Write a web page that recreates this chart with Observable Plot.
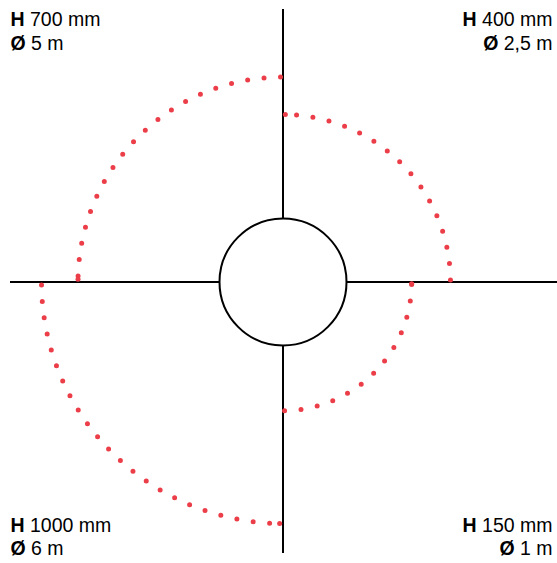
<!DOCTYPE html>
<html>
<head>
<meta charset="utf-8">
<script src="https://cdn.jsdelivr.net/npm/d3@7"></script>
<script src="https://cdn.jsdelivr.net/npm/@observablehq/plot@0.6"></script>
<style>
  html, body { margin: 0; padding: 0; background: white; }
</style>
</head>
<body>
<div id="chart"></div>
<script>
// ---- Data ----
const quadrants   = ["top-left", "top-right", "bottom-left", "bottom-right"];
const heightsMm   = [700, 400, 1000, 150];
const diametersM  = ["5", "2,5", "6", "1"];
// ring radius of each quadrant's dotted arc, in chart units
const ringRadius  = [205, 167.5, 241.5, 128.7];
// angle (degrees, counter-clockwise from east) where each quadrant begins
const quadStart   = [90, 0, 180, 270];

const red = "#ec3e48";

// ---- Geometry built from data ----
const arcPts = [];
const endPts = [];
quadrants.forEach((q, i) => {
  const a0 = quadStart[i] + 0.7, a1 = quadStart[i] + 89.2;
  const n = 180;
  for (let k = 0; k <= n; k++) {
    const a = (a0 + (a1 - a0) * k / n) * Math.PI / 180;
    arcPts.push({q, x: ringRadius[i] * Math.cos(a), y: ringRadius[i] * Math.sin(a)});
  }
  const ae = a1 * Math.PI / 180;
  endPts.push({q, x: ringRadius[i] * Math.cos(ae), y: ringRadius[i] * Math.sin(ae)});
});

const labels = quadrants.map((q, i) => `H ${heightsMm[i]} mm\nØ ${diametersM[i]} m`);

function label(i) {
  const q = quadrants[i];
  const left = q.endsWith("left");
  const top = q.startsWith("top");
  return Plot.text([labels[i]], {
    text: d => d,
    frameAnchor: q,
    textAnchor: left ? "start" : "end",
    lineAnchor: top ? "top" : "bottom",
    lineHeight: 1.2,
    fontSize: 19.5,
    fill: "black",
    dx: left ? 10 : -5,
    dy: top ? 9 : -8.5
  });
}

const chart = Plot.plot({
  width: 557,
  height: 563,
  margin: 0,
  x: {domain: [-282.5, 274.5], axis: null},
  y: {domain: [-281.5, 281.5], axis: null},
  style: {background: "white", fontFamily: "'Liberation Sans', Arial, sans-serif"},
  marks: [
    Plot.ruleY([0], {x1: -272.5, x2: 274.5, stroke: "black", strokeWidth: 2}),
    Plot.ruleX([0], {y1: -271.5, y2: 272.5, stroke: "black", strokeWidth: 2}),
    Plot.dot([0], {x: 0, y: 0, r: 63.5, fill: "white", stroke: "black", strokeWidth: 2}),
    Plot.line(arcPts, {x: "x", y: "y", z: "q", stroke: red, strokeWidth: 5,
      strokeDasharray: "0 16.5", strokeLinecap: "round", curve: "linear"}),
    Plot.dot(endPts, {x: "x", y: "y", r: 2.5, fill: red}),
    ...quadrants.map((q, i) => label(i))
  ]
});

// make the leading symbol of each label line bold
d3.select(chart).selectAll('g[aria-label="text"] text tspan').each(function() {
  const t = this.textContent;
  const sp = t.indexOf(" ");
  if (sp < 0) return;
  const head = t.slice(0, sp), rest = t.slice(sp);
  this.textContent = "";
  const b = document.createElementNS("http://www.w3.org/2000/svg", "tspan");
  b.setAttribute("font-weight", "bold");
  b.textContent = head;
  this.appendChild(b);
  this.appendChild(document.createTextNode(rest));
});

document.getElementById("chart").appendChild(chart);
</script>
</body>
</html>
